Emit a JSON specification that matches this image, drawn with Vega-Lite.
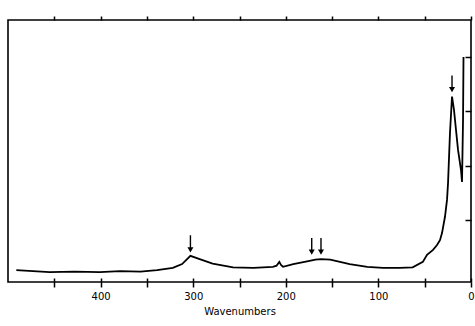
{
  "$schema": "https://vega.github.io/schema/vega-lite/v6.json",
  "width": 463,
  "height": 262,
  "autosize": "none",
  "padding": {"left": 8, "top": 20, "right": 4, "bottom": 44},
  "config": {
    "view": {"stroke": "black", "strokeWidth": 1.6},
    "font": "DejaVu Sans",
    "axis": {"grid": false, "domain": false, "tickColor": "black", "labelColor": "black", "titleColor": "black", "tickWidth": 1.5}
  },
  "datasets": {
    "spectrum": [
      {"w": 491, "v": 0.08}, {"w": 473, "v": 0.06}, {"w": 455, "v": 0.04}, {"w": 428, "v": 0.05},
      {"w": 401, "v": 0.04}, {"w": 379, "v": 0.06}, {"w": 357, "v": 0.05}, {"w": 339, "v": 0.08},
      {"w": 322, "v": 0.12}, {"w": 312, "v": 0.19}, {"w": 303, "v": 0.34}, {"w": 293, "v": 0.28},
      {"w": 279, "v": 0.2}, {"w": 257, "v": 0.13}, {"w": 235, "v": 0.12}, {"w": 214, "v": 0.14},
      {"w": 210, "v": 0.16}, {"w": 207, "v": 0.23}, {"w": 205, "v": 0.17}, {"w": 203, "v": 0.14},
      {"w": 192, "v": 0.19}, {"w": 177, "v": 0.24}, {"w": 168, "v": 0.27}, {"w": 162, "v": 0.28},
      {"w": 152, "v": 0.27}, {"w": 131, "v": 0.19}, {"w": 112, "v": 0.14}, {"w": 95, "v": 0.12},
      {"w": 77, "v": 0.12}, {"w": 63, "v": 0.13}, {"w": 52, "v": 0.23}, {"w": 47.5, "v": 0.36},
      {"w": 41, "v": 0.45}, {"w": 36.7, "v": 0.54}, {"w": 33.5, "v": 0.63}, {"w": 31.3, "v": 0.76},
      {"w": 28.1, "v": 1.06}, {"w": 25.9, "v": 1.37}, {"w": 24.8, "v": 1.68}, {"w": 22.7, "v": 2.6},
      {"w": 20.5, "v": 3.27}, {"w": 18.4, "v": 3.03}, {"w": 16.2, "v": 2.66}, {"w": 14.0, "v": 2.29},
      {"w": 10.8, "v": 1.92}, {"w": 9.7, "v": 1.7}, {"w": 8.6, "v": 2.84}, {"w": 8.1, "v": 4.0}
    ],
    "arrows": [
      {"w": 303, "top": 0.72, "tip": 0.45},
      {"w": 172, "top": 0.67, "tip": 0.41},
      {"w": 162, "top": 0.67, "tip": 0.41},
      {"w": 20.5, "top": 3.66, "tip": 3.4}
    ]
  },
  "layer": [
    {
      "data": {"name": "spectrum"},
      "mark": {"type": "line", "color": "black", "strokeWidth": 1.8, "interpolate": "linear"},
      "encoding": {
        "x": {"field": "w", "type": "quantitative", "scale": {"domain": [500, 0], "nice": false},
          "axis": {"orient": "bottom", "values": [450, 400, 350, 300, 250, 200, 150, 100, 50, 0], "labelExpr": "datum.value % 100 == 0 ? datum.label : ''", "tickSize": 5, "labelFontSize": 10, "labelPadding": 4, "title": "Wavenumbers", "titleFontSize": 10, "titleFontWeight": "normal", "titlePadding": 5, "labelFlush": false}},
        "y": {"field": "v", "type": "quantitative", "scale": {"domain": [-0.14, 4.68], "nice": false, "zero": false},
          "axis": {"orient": "right", "values": [1, 2, 3, 4], "labels": false, "tickSize": -6, "title": null}}
      }
    },
    {
      "data": {"name": "arrows"},
      "mark": {"type": "rule", "color": "black", "strokeWidth": 1.4},
      "encoding": {
        "x": {"field": "w", "type": "quantitative", "axis": {"orient": "top", "values": [450, 400, 350, 300, 250, 200, 150, 100, 50, 0], "labels": false, "tickSize": 4, "title": null}},
        "y": {"field": "top", "type": "quantitative", "axis": {"orient": "left", "ticks": false, "labels": false, "title": null}},
        "y2": {"field": "tip"}
      }
    },
    {
      "data": {"name": "arrows"},
      "mark": {"type": "point", "shape": "triangle-down", "filled": true, "color": "black", "size": 36, "opacity": 1},
      "encoding": {
        "x": {"field": "w", "type": "quantitative", "axis": {"orient": "bottom", "values": [450, 400, 350, 300, 250, 200, 150, 100, 50, 0], "labels": false, "tickSize": -4, "title": null}},
        "y": {"field": "tip", "type": "quantitative", "axis": null}
      }
    }
  ],
  "resolve": {"axis": {"x": "independent", "y": "independent"}}
}
